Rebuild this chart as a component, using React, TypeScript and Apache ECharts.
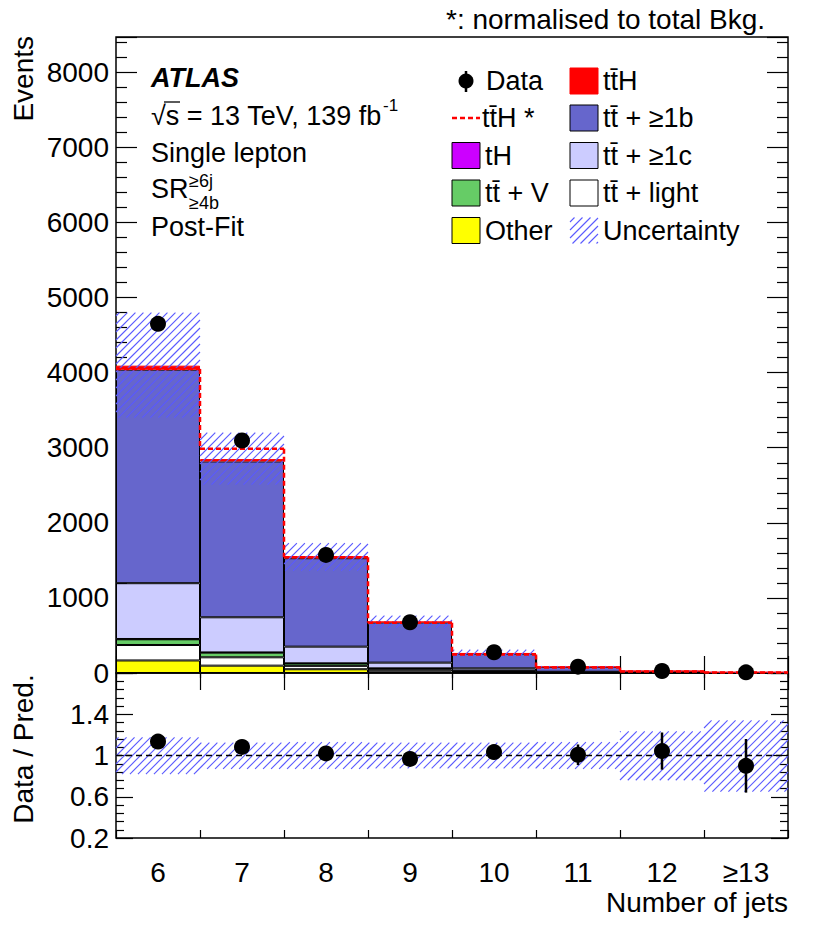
import React, { useEffect, useRef } from 'react';
import * as echarts from 'echarts';

// ---------------- data ----------------
const categories = ['6', '7', '8', '9', '10', '11', '12', '≥13'];
const other = [167, 98, 50, 20, 10, 3, 1, 0.4];
const ttLight = [206, 111, 45, 25, 12, 3, 1, 0.4];
const ttV = [76, 62, 32, 15, 8, 2, 0.6, 0.3];
const tH = [4, 3, 2, 2, 1, 0.5, 0.2, 0.1];
const tt1c = [743, 468, 222, 76, 31, 8, 2.5, 1];
const tt1b = [2844, 2076, 1178, 536, 196, 64, 20, 7.5];
const ttH = [53, 31, 26, 10, 4, 1.5, 0.7, 0.3];
const ttHNorm = [4050, 2985, 1540, 670, 245, 72, 20, 6];
const dataVals = [4650, 3097, 1573, 676, 276, 84, 27, 9];
const dataErr = [68, 56, 40, 26, 17, 9, 5, 3];
const bandLo = [3400, 2510, 1360, 600, 215, 72, 20, 6.5];
const bandHi = [4800, 3200, 1730, 765, 310, 92, 32, 13.5];
const ratioVals = [1.135, 1.083, 1.02, 0.967, 1.033, 1.007, 1.043, 0.9];
const ratioErr = [0.015, 0.018, 0.025, 0.04, 0.06, 0.1, 0.18, 0.26];
const ratioBandLo = [0.82, 0.87, 0.87, 0.875, 0.875, 0.87, 0.76, 0.65];
const ratioBandHi = [1.175, 1.125, 1.13, 1.125, 1.125, 1.13, 1.235, 1.34];

const FONT = '"Liberation Sans", Arial, Helvetica, sans-serif';
const HATCH = '#5a5aff';
const TB = 't\u0074\u0304'; // t tbar

const stackDefs = [
  { name: 'Other', values: other, color: '#ffff00', border: '#000' },
  { name: TB + ' + light', values: ttLight, color: '#ffffff', border: '#000' },
  { name: TB + ' + V', values: ttV, color: '#66cc66', border: '#000' },
  { name: 'tH', values: tH, color: '#cc00ff', border: '#000' },
  { name: TB + ' + ≥1c', values: tt1c, color: '#ccccff', border: '#000' },
  { name: TB + ' + ≥1b', values: tt1b, color: '#6666cc', border: '#000' },
  { name: TB + 'H', values: ttH, color: '#ff0000', border: '#ff0000' },
];

function hatchLines(x0: number, y0: number, x1: number, y1: number, step: number, color: string, lw: number) {
  const out: any[] = [];
  const k0 = Math.ceil((x0 + y0) / step);
  const k1 = Math.floor((x1 + y1) / step);
  for (let k = k0; k <= k1; k++) {
    const c = k * step;
    const xa = Math.max(x0, c - y1);
    const xb = Math.min(x1, c - y0);
    if (xb - xa > 0.3) {
      out.push({
        type: 'line',
        silent: true,
        shape: { x1: xa, y1: c - xa, x2: xb, y2: c - xb },
        style: { stroke: color, lineWidth: lw, fill: null, opacity: 1 },
      });
    }
  }
  return out;
}

const bandRender = (params: any, api: any) => {
  const i = api.value(0);
  const pLo = api.coord([i, api.value(1)]);
  const pHi = api.coord([i, api.value(2)]);
  const w = api.size([1, 0])[0];
  return { type: 'group', children: hatchLines(pLo[0] - w / 2, pHi[1], pLo[0] + w / 2, pLo[1], 8, HATCH, 1.1) };
};

const dashStyle = { stroke: '#ff0000', lineWidth: 2.5, lineDash: [5, 3] };
const stepRender = (params: any, api: any) => {
  const i = api.value(0);
  const p = api.coord([i, api.value(1)]);
  const w = api.size([1, 0])[0];
  const children: any[] = [
    { type: 'line', shape: { x1: p[0] - w / 2, y1: p[1], x2: p[0] + w / 2, y2: p[1] }, style: dashStyle },
  ];
  if (i > 0) {
    const q = api.coord([i, api.value(2)]);
    children.push({ type: 'line', shape: { x1: p[0] - w / 2, y1: q[1], x2: p[0] - w / 2, y2: p[1] }, style: dashStyle });
  }
  return { type: 'group', children };
};

const errRender = (params: any, api: any) => {
  const i = api.value(0);
  const a = api.coord([i, api.value(1) - api.value(2)]);
  const b = api.coord([i, api.value(1) + api.value(2)]);
  return { type: 'line', shape: { x1: a[0], y1: a[1], x2: b[0], y2: b[1] }, style: { stroke: '#000', lineWidth: 2.5 } };
};

function txt(text: string, x: number, y: number, o: any = {}) {
  return {
    type: 'text',
    x,
    y,
    rotation: o.rotation || 0,
    z: 100,
    style: {
      text,
      fill: '#000',
      fontSize: o.size || 27,
      fontFamily: FONT,
      fontWeight: o.weight || 'normal',
      fontStyle: o.fstyle || 'normal',
      align: o.align || 'left',
      verticalAlign: 'middle',
    },
  };
}

function box(x: number, cy: number, fill: string, stroke: string) {
  return { type: 'rect', z: 100, shape: { x, y: cy - 13, width: 28, height: 26 }, style: { fill, stroke, lineWidth: 1 } };
}

export default function App() {
  const ref = useRef<HTMLDivElement>(null);
  useEffect(() => {
    const chart = echarts.init(ref.current!, null, { renderer: 'svg' });

    const rows = [81, 118, 155.5, 193, 230.5];
    const graphic: any[] = [
      // header
      txt('*: normalised to total Bkg.', 446, 19.7, { size: 28 }),
      // axis titles
      txt('Events', 23, 36, { rotation: Math.PI / 2, align: 'right', size: 28 }),
      txt('Data / Pred.', 23, 749, { rotation: Math.PI / 2, align: 'center', size: 28 }),
      txt('Number of jets', 788, 902.5, { align: 'right', size: 28 }),
      // ATLAS labels
      txt('ATLAS', 151, 77.5, { weight: 'bold', fstyle: 'italic' }),
      txt('√s = 13 TeV, 139 fb', 151, 115.5),
      txt('-1', 383, 105, { size: 17 }),
      { type: 'line', z: 100, shape: { x1: 164, y1: 102, x2: 180, y2: 102 }, style: { stroke: '#000', lineWidth: 1.3 } },
      txt('Single lepton', 151, 152.5),
      txt('SR', 151, 189.3),
      txt('≥6j', 189, 180.5, { size: 18 }),
      txt('≥4b', 189, 202.5, { size: 18 }),
      txt('Post-Fit', 151, 227),
      // legend left column
      { type: 'line', z: 100, shape: { x1: 466, y1: 71, x2: 466, y2: 92 }, style: { stroke: '#000', lineWidth: 2.5 } },
      { type: 'circle', z: 100, shape: { cx: 466, cy: rows[0], r: 7.5 }, style: { fill: '#000' } },
      txt('Data', 486, rows[0]),
      { type: 'line', z: 100, shape: { x1: 452, y1: rows[1], x2: 480, y2: rows[1] }, style: dashStyle },
      txt(TB + 'H *', 482, rows[1]),
      box(452, rows[2], '#cc00ff', '#000'),
      txt('tH', 485, rows[2]),
      box(452, rows[3], '#66cc66', '#000'),
      txt(TB + ' + V', 485, rows[3]),
      box(452, rows[4], '#ffff00', '#000'),
      txt('Other', 485, rows[4]),
      // legend right column
      box(570, rows[0], '#ff0000', '#ff0000'),
      txt(TB + 'H', 603, rows[0]),
      box(570, rows[1], '#6666cc', '#000'),
      txt(TB + ' + ≥1b', 603, rows[1]),
      box(570, rows[2], '#ccccff', '#000'),
      txt(TB + ' + ≥1c', 603, rows[2]),
      box(570, rows[3], '#ffffff', '#000'),
      txt(TB + ' + light', 603, rows[3]),
      { type: 'group', z: 100, children: hatchLines(570, rows[4] - 13, 598, rows[4] + 13, 8, HATCH, 1.1) },
      txt('Uncertainty', 603, rows[4]),
    ];

    const axisCommon = {
      axisLine: { show: false },
      splitLine: { show: false },
    };
    const catAxis = (gridIndex: number, position: string, tickLen: number, labels: boolean) => ({
      type: 'category',
      data: categories,
      gridIndex,
      position,
      ...axisCommon,
      axisTick: { show: true, inside: true, length: tickLen, lineStyle: { color: '#000', width: 1.2 } },
      axisLabel: { show: labels, color: '#000', fontSize: 28, fontFamily: FONT, margin: 20 },
    });
    const valAxis = (gridIndex: number, position: string, min: number, max: number, interval: number, major: number, minor: number, labels: boolean, fmt: any) => ({
      type: 'value',
      gridIndex,
      position,
      min,
      max,
      interval,
      ...axisCommon,
      axisTick: { show: true, inside: true, length: major, lineStyle: { color: '#000', width: 1.2 } },
      minorTick: { show: true, splitNumber: 5, length: minor, lineStyle: { color: '#000', width: 1.2 } },
      axisLabel: { show: labels, color: '#000', fontSize: 28, fontFamily: FONT, margin: 7, formatter: fmt },
    });
    const mainFmt = (v: number) => (Math.abs(v % 1000) < 1e-6 && v <= 8000 ? String(v) : '');
    const ratioFmt = (v: number) => (v < 1.75 ? String(parseFloat(v.toFixed(1))) : '');

    const series: any[] = [];
    stackDefs.forEach((d) => {
      series.push({
        type: 'bar',
        name: d.name,
        stack: 'bkg',
        xAxisIndex: 0,
        yAxisIndex: 0,
        barCategoryGap: '0%',
        data: d.values,
        itemStyle: { color: d.color, borderColor: d.border, borderWidth: 1 },
        z: 2,
      });
    });
    series.push({
      type: 'custom',
      name: 'Uncertainty',
      xAxisIndex: 0,
      yAxisIndex: 0,
      renderItem: bandRender,
      data: bandLo.map((lo, i) => [i, lo, bandHi[i]]),
      encode: { x: 0, y: [1, 2] },
      itemStyle: { color: HATCH, opacity: 1 },
      z: 3,
    });
    series.push({
      type: 'custom',
      name: 'ttH norm',
      xAxisIndex: 0,
      yAxisIndex: 0,
      renderItem: stepRender,
      data: ttHNorm.map((v, i) => [i, v, i > 0 ? ttHNorm[i - 1] : v]),
      encode: { x: 0, y: [1, 2] },
      z: 4,
    });
    series.push({
      type: 'custom',
      name: 'Data err',
      xAxisIndex: 0,
      yAxisIndex: 0,
      renderItem: errRender,
      data: dataVals.map((v, i) => [i, v, dataErr[i]]),
      encode: { x: 0, y: 1 },
      z: 5,
    });
    series.push({
      type: 'scatter',
      name: 'Data',
      xAxisIndex: 0,
      yAxisIndex: 0,
      symbolSize: 16,
      itemStyle: { color: '#000', opacity: 1 },
      data: dataVals.map((v, i) => [i, v]),
      z: 6,
    });
    // ratio
    series.push({
      type: 'custom',
      name: 'Ratio band',
      xAxisIndex: 2,
      yAxisIndex: 2,
      renderItem: bandRender,
      data: ratioBandLo.map((lo, i) => [i, lo, ratioBandHi[i]]),
      encode: { x: 0, y: [1, 2] },
      itemStyle: { color: HATCH, opacity: 1 },
      z: 3,
    });
    series.push({
      type: 'custom',
      name: 'Ratio err',
      xAxisIndex: 2,
      yAxisIndex: 2,
      renderItem: errRender,
      data: ratioVals.map((v, i) => [i, v, ratioErr[i]]),
      encode: { x: 0, y: 1 },
      z: 5,
    });
    series.push({
      type: 'scatter',
      name: 'Ratio',
      xAxisIndex: 2,
      yAxisIndex: 2,
      symbolSize: 16,
      itemStyle: { color: '#000', opacity: 1 },
      data: ratioVals.map((v, i) => [i, v]),
      z: 6,
      markLine: {
        silent: true,
        symbol: 'none',
        label: { show: false },
        lineStyle: { color: '#000', width: 1.3, type: [6, 4] },
        data: [{ yAxis: 1 }],
        z: 4,
      },
    });

    const option: any = {
      animation: false,
      backgroundColor: '#fff',
      textStyle: { fontFamily: FONT },
      grid: [
        { left: 116, top: 37, width: 672, height: 636, show: true, borderColor: '#000', borderWidth: 1.5, backgroundColor: 'transparent' },
        { left: 116, top: 673, width: 672, height: 165, show: true, borderColor: '#000', borderWidth: 1.5, backgroundColor: 'transparent' },
      ],
      xAxis: [
        catAxis(0, 'bottom', 17, false),
        catAxis(0, 'top', 17, false),
        catAxis(1, 'bottom', 8, true),
        catAxis(1, 'top', 5, false),
      ],
      yAxis: [
        valAxis(0, 'left', 0, 8470, 1000, 21, 11, true, mainFmt),
        valAxis(0, 'right', 0, 8470, 1000, 21, 11, false, mainFmt),
        valAxis(1, 'left', 0.2, 1.8, 0.4, 17, 8, true, ratioFmt),
        valAxis(1, 'right', 0.2, 1.8, 0.4, 17, 8, false, ratioFmt),
      ],
      series,
      graphic,
    };
    chart.setOption(option);
    return () => chart.dispose();
  }, []);
  return <div ref={ref} style={{ position: 'absolute', left: 0, top: 0, width: 830, height: 936, background: '#fff' }} />;
}
